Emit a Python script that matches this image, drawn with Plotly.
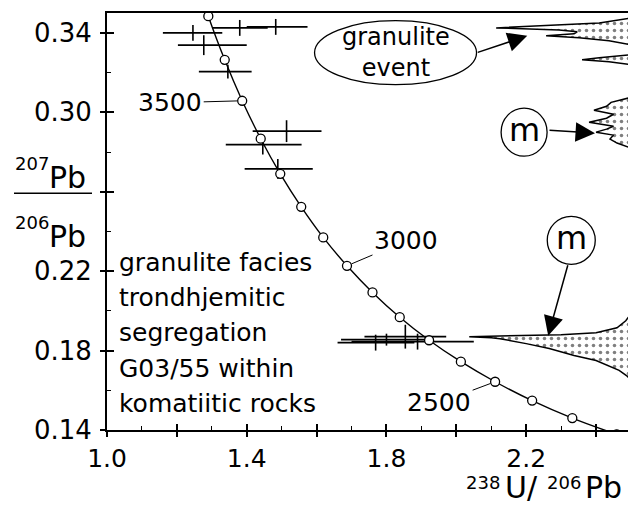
import plotly.graph_objects as go

# ---------------- data ----------------
# Concordia curve points, 100 Ma apart
conc_age = [2200, 2300, 2400, 2500, 2600, 2700, 2800, 2900, 3000,
            3100, 3200, 3300, 3400, 3500, 3600, 3700, 3800]
conc_x = [2.459, 2.332, 2.217, 2.111, 2.013, 1.922, 1.838, 1.760, 1.687,
          1.619, 1.556, 1.496, 1.440, 1.387, 1.337, 1.290, 1.245]
conc_y = [0.1378, 0.1460, 0.1548, 0.1643, 0.1744, 0.1852, 0.1968, 0.2093, 0.2227,
          0.2370, 0.2524, 0.2690, 0.2867, 0.3058, 0.3264, 0.3484, 0.3721]
age_labels = ["3500", "3000", "2500"]

# Analyses (centre, horizontal extent, vertical half error)
spot_x = [1.246, 1.380, 1.483, 1.277, 1.346, 1.514, 1.446, 1.489, 1.769, 1.854, 1.889, 1.800]
spot_y = [0.3400, 0.3425, 0.3430, 0.3338, 0.3205, 0.2905, 0.2837, 0.2715, 0.1840, 0.1870, 0.1845, 0.1855]
spot_xlo = [1.160, 1.303, 1.400, 1.203, 1.263, 1.417, 1.340, 1.394, 1.660, 1.737, 1.700, 1.670]
spot_xhi = [1.330, 1.460, 1.574, 1.400, 1.414, 1.614, 1.557, 1.589, 1.880, 1.971, 2.050, 1.930]
spot_yerr = [0.0040, 0.0040, 0.0040, 0.0050, 0.0035, 0.0055, 0.0050, 0.0050, 0.0040, 0.0060, 0.0040, 0.0030]

# Relative probability profile drawn against the right frame
dens_y = [0.3500, 0.3475, 0.3450, 0.3435, 0.3425, 0.3415, 0.3405, 0.3395, 0.3385, 0.3375, 0.3360, 0.3340,
          0.3290, 0.3275, 0.3265, 0.3255, 0.3240,
          0.3075, 0.3050, 0.3030, 0.3010, 0.2990, 0.2970, 0.2950, 0.2930, 0.2915, 0.2900, 0.2885,
          0.2865, 0.2845, 0.2820,
          0.1985, 0.1950, 0.1915, 0.1890, 0.1880, 0.18725, 0.1870, 0.1865, 0.1860, 0.1835, 0.1810,
          0.1775, 0.1750, 0.1700, 0.1670, 0.1650, 0.1400]
dens_x = [2.500, 2.500, 2.409, 2.237, 2.114, 2.294, 2.346, 2.337, 2.257, 2.351, 2.437, 2.500,
          2.500, 2.409, 2.360, 2.437, 2.500,
          2.500, 2.443, 2.430, 2.394, 2.450, 2.430, 2.380, 2.450, 2.430, 2.400, 2.450,
          2.440, 2.460, 2.500,
          2.500, 2.485, 2.460, 2.400, 2.300, 2.120, 2.037, 2.100, 2.125, 2.200, 2.266,
          2.337, 2.400, 2.466, 2.490, 2.500, 2.500]

x_ticks = [1.0, 1.2, 1.4, 1.6, 1.8, 2.0, 2.2, 2.4]
x_ticktext = ["1.0", "", "1.4", "", "1.8", "", "2.2", ""]
x_minor = [1.1, 1.3, 1.5, 1.7, 1.9, 2.1, 2.3]
y_ticks = [0.14, 0.18, 0.22, 0.26, 0.30, 0.34]
y_ticktext = ["0.14", "0.18", "0.22", "", "0.30", "0.34"]
y_minor = [0.16, 0.20, 0.24, 0.28, 0.32]

FONT = "DejaVu Sans"
X0, X1 = 1.0, 2.5
Y0, Y1 = 0.14, 0.35
OFF = 8                      # the page body offsets the figure by 8 px
W, H = 628, 497
L, R, T, B = 99, 5, 3, 75    # plot area on the page: x 107..631, y 11..430
PW, PH = W - L - R, H - T - B


def px(xp):
    """page pixel x -> paper x"""
    return (xp - OFF - L) / PW


def py(yp):
    """page pixel y -> paper y"""
    return (OFF + H - B - yp) / PH


fig = go.Figure()

# probability density (stippled)
fig.add_trace(go.Scatter(
    x=dens_x, y=dens_y, mode="lines", fill="toself", fillcolor="white",
    fillpattern=dict(shape=".", fgcolor="black", bgcolor="white", size=7, solidity=0.2),
    line=dict(color="black", width=1.5), hoverinfo="skip", showlegend=False))

# concordia line
fig.add_trace(go.Scatter(
    x=conc_x, y=conc_y, mode="lines", line=dict(color="black", width=1.4, shape="spline"),
    hoverinfo="skip", showlegend=False))

# analyses as error crosses
fig.add_trace(go.Scatter(
    x=spot_x, y=spot_y, mode="markers", marker=dict(size=1, color="black"),
    error_x=dict(type="data", symmetric=False,
                 array=[h - c for h, c in zip(spot_xhi, spot_x)],
                 arrayminus=[c - l for c, l in zip(spot_x, spot_xlo)],
                 color="black", thickness=1.6, width=0),
    error_y=dict(type="data", array=spot_yerr, color="black", thickness=1.6, width=0),
    hoverinfo="skip", showlegend=False))

# concordia age markers
fig.add_trace(go.Scatter(
    x=conc_x, y=conc_y, mode="markers",
    marker=dict(symbol="circle", size=9, color="white", line=dict(color="black", width=1.3)),
    hoverinfo="skip", showlegend=False))

# dummy trace for the overlay axes (inside part of the major ticks)
fig.add_trace(go.Scatter(x=[None], y=[None], xaxis="x2", yaxis="y2", showlegend=False, hoverinfo="skip"))

fig.update_layout(
    width=W, height=H, margin=dict(l=L, r=R, t=T, b=B),
    paper_bgcolor="white", plot_bgcolor="white", showlegend=False,
    xaxis=dict(range=[X0, X1], tickmode="array", tickvals=x_ticks, ticktext=x_ticktext,
               ticks="outside", ticklen=5, tickwidth=1.5, tickcolor="black",
               showline=True, mirror=True, linecolor="black", linewidth=2,
               showgrid=False, zeroline=False,
               tickfont=dict(family=FONT, size=25, color="black"), ticklabelstandoff=0,
               minor=dict(tickmode="array", tickvals=x_minor, ticks="inside", ticklen=4,
                          tickwidth=1, tickcolor="black", showgrid=False)),
    yaxis=dict(range=[Y0, Y1], tickmode="array", tickvals=y_ticks, ticktext=y_ticktext,
               ticks="outside", ticklen=5, tickwidth=1.5, tickcolor="black",
               showline=True, mirror=True, linecolor="black", linewidth=2,
               showgrid=False, zeroline=False,
               tickfont=dict(family=FONT, size=26, color="black"), ticklabelstandoff=3,
               minor=dict(tickmode="array", tickvals=y_minor, ticks="inside", ticklen=4,
                          tickwidth=1, tickcolor="black", showgrid=False)),
    xaxis2=dict(range=[X0, X1], overlaying="x", anchor="y", side="bottom",
                tickmode="array", tickvals=x_ticks, ticks="inside", ticklen=6, tickwidth=1.5,
                tickcolor="black", showticklabels=False, showline=False, showgrid=False, zeroline=False),
    yaxis2=dict(range=[Y0, Y1], overlaying="y", anchor="x", side="left",
                tickmode="array", tickvals=y_ticks, ticks="inside", ticklen=7, tickwidth=1.5,
                tickcolor="black", showticklabels=False, showline=False, showgrid=False, zeroline=False),
)

ann = []
# age labels with leader lines
for lab, (dx, dy) in zip(age_labels, [(-72, 2), (59, -25), (-56, 21)]):
    i = conc_age.index(int(lab))
    ann.append(dict(x=conc_x[i], y=conc_y[i], xref="x", yref="y", ax=dx, ay=dy,
                    text=lab, showarrow=True, arrowhead=0, arrowwidth=1, arrowcolor="black",
                    standoff=5, font=dict(family=FONT, size=25, color="black")))

# sample description
desc = ["granulite facies", "trondhjemitic", "segregation", "G03/55 within", "komatiitic rocks"]
for k, line in enumerate(desc):
    ann.append(dict(x=px(117), y=py(261.5 + 35.5 * k), xref="paper", yref="paper",
                    xanchor="left", yanchor="middle", text=line, showarrow=False,
                    font=dict(family=FONT, size=25, color="black")))

# granulite event bubble + arrow
ann.append(dict(x=1.826, y=0.330, xref="x", yref="y", text="granulite<br>event", showarrow=False,
                font=dict(family=FONT, size=24, color="black")))
ann.append(dict(x=2.203, y=0.3385, xref="x", yref="y", ax=-51, ay=17, text="", showarrow=True,
                arrowhead=2, arrowsize=2.6, arrowwidth=1.5, arrowcolor="black", standoff=0))
# m bubbles + arrows
ann.append(dict(x=2.194, y=0.290, xref="x", yref="y", text="m", showarrow=False,
                font=dict(family=FONT, size=32, color="black"), yshift=2))
ann.append(dict(x=2.397, y=0.2895, xref="x", yref="y", ax=-47, ay=-3, text="", showarrow=True,
                arrowhead=2, arrowsize=2.6, arrowwidth=1.5, arrowcolor="black", standoff=0))
ann.append(dict(x=2.329, y=0.2355, xref="x", yref="y", text="m", showarrow=False,
                font=dict(family=FONT, size=32, color="black"), yshift=2))
ann.append(dict(x=2.263, y=0.1875, xref="x", yref="y", ax=20, ay=-72, text="", showarrow=True,
                arrowhead=2, arrowsize=2.6, arrowwidth=1.5, arrowcolor="black", standoff=0))

# axis titles (isotope ratios)
small = dict(family=FONT, size=18, color="black")
big = dict(family=FONT, size=30, color="black")
ann += [
    dict(x=px(465), y=py(483), xref="paper", yref="paper", xanchor="left", yanchor="middle",
         text="238", showarrow=False, font=small, borderpad=0),
    dict(x=px(504), y=py(487.5), xref="paper", yref="paper", xanchor="left", yanchor="middle",
         text="U/", showarrow=False, font=big, borderpad=0),
    dict(x=px(546), y=py(483), xref="paper", yref="paper", xanchor="left", yanchor="middle",
         text="206", showarrow=False, font=small, borderpad=0),
    dict(x=px(584), y=py(487.5), xref="paper", yref="paper", xanchor="left", yanchor="middle",
         text="Pb", showarrow=False, font=big, borderpad=0),
    dict(x=px(13), y=py(162), xref="paper", yref="paper", xanchor="left", yanchor="middle",
         text="207", showarrow=False, font=small),
    dict(x=px(47), y=py(176), xref="paper", yref="paper", xanchor="left", yanchor="middle",
         text="Pb", showarrow=False, font=big),
    dict(x=px(13), y=py(222), xref="paper", yref="paper", xanchor="left", yanchor="middle",
         text="206", showarrow=False, font=small),
    dict(x=px(47), y=py(236), xref="paper", yref="paper", xanchor="left", yanchor="middle",
         text="Pb", showarrow=False, font=big),
]
fig.update_layout(annotations=ann)

shapes = [
    dict(type="line", xref="paper", yref="paper", x0=px(14), x1=px(92), y0=py(192), y1=py(192),
         line=dict(color="black", width=1.5)),
    dict(type="circle", xref="x", yref="y", xsizemode="pixel", ysizemode="pixel",
         xanchor=1.826, yanchor=0.330, x0=-81, x1=81, y0=-32, y1=32,
         line=dict(color="black", width=1.3)),
    dict(type="circle", xref="x", yref="y", xsizemode="pixel", ysizemode="pixel",
         xanchor=2.194, yanchor=0.290, x0=-23, x1=23, y0=-24, y1=24,
         line=dict(color="black", width=1.3)),
    dict(type="circle", xref="x", yref="y", xsizemode="pixel", ysizemode="pixel",
         xanchor=2.329, yanchor=0.2355, x0=-24, x1=24, y0=-24, y1=24,
         line=dict(color="black", width=1.3)),
]
fig.update_layout(shapes=shapes)

fig.write_html("out.html")
